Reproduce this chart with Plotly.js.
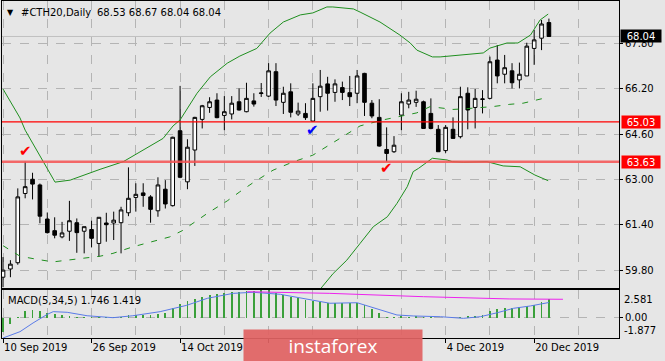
<!DOCTYPE html>
<html><head><meta charset="utf-8">
<script src="https://cdn.plot.ly/plotly-3.0.1.min.js"></script>
<style>html,body{margin:0;padding:0;background:#e6e6e6;}#chart{width:665px;height:361px;}</style>
</head><body><div id="chart"></div>
<script>
// ---- data ----
const dates = ["2019-09-10","2019-09-11","2019-09-12","2019-09-13","2019-09-16","2019-09-17","2019-09-18","2019-09-19","2019-09-20","2019-09-23","2019-09-24","2019-09-25","2019-09-26","2019-09-27","2019-09-30","2019-10-01","2019-10-02","2019-10-03","2019-10-04","2019-10-07","2019-10-08","2019-10-09","2019-10-10","2019-10-11","2019-10-14","2019-10-15","2019-10-16","2019-10-17","2019-10-18","2019-10-21","2019-10-22","2019-10-23","2019-10-24","2019-10-25","2019-10-28","2019-10-29","2019-10-30","2019-10-31","2019-11-01","2019-11-04","2019-11-05","2019-11-06","2019-11-07","2019-11-08","2019-11-11","2019-11-12","2019-11-13","2019-11-14","2019-11-15","2019-11-18","2019-11-19","2019-11-20","2019-11-21","2019-11-22","2019-11-25","2019-11-26","2019-11-27","2019-11-29","2019-12-02","2019-12-03","2019-12-04","2019-12-05","2019-12-06","2019-12-09","2019-12-10","2019-12-11","2019-12-12","2019-12-13","2019-12-16","2019-12-17","2019-12-18","2019-12-19","2019-12-20","2019-12-23","2019-12-24"];
const open  = [59.56,59.85,60.07,62.51,63.01,62.81,61.61,61.20,60.98,61.18,61.48,61.18,61.24,60.75,61.47,61.47,61.48,61.83,62.37,62.53,62.39,61.90,62.66,62.08,64.72,62.92,64.04,65.12,65.54,65.80,65.26,65.31,65.74,65.39,65.77,66.03,65.94,66.80,65.72,66.09,65.31,65.33,65.06,65.92,66.37,66.07,66.24,66.06,66.04,66.74,65.69,65.19,64.06,63.98,65.27,65.66,65.72,65.74,65.33,64.77,64.02,64.77,64.51,66.04,65.54,65.82,65.86,67.21,66.71,66.83,66.51,66.65,67.62,67.98,68.53];
const high  = [60.27,60.16,62.69,63.63,63.24,62.86,61.84,61.67,61.51,62.25,61.63,61.34,61.55,61.67,61.83,61.87,62.04,63.43,62.87,62.87,62.45,63.08,62.98,64.51,66.30,64.42,65.21,65.63,65.90,66.04,65.94,65.94,66.21,66.41,66.04,66.40,67.10,67.10,66.27,66.39,65.71,65.69,66.39,66.86,66.62,66.53,66.45,66.65,66.86,66.76,65.80,65.83,64.84,64.53,66.04,66.09,66.13,65.78,65.86,64.92,64.92,65.19,66.27,66.25,66.19,66.15,67.33,67.74,67.39,67.10,67.12,67.82,68.27,68.62,68.67];
const low   = [59.21,59.56,60.00,62.34,62.30,61.46,61.10,60.93,60.93,60.84,60.42,60.40,60.61,60.28,60.81,60.87,60.40,61.71,61.87,62.04,61.48,61.69,61.98,62.05,63.05,62.66,63.48,64.80,65.35,65.16,64.74,65.12,65.43,65.37,65.57,65.91,65.91,65.59,65.31,65.19,65.24,65.10,65.04,65.39,65.43,65.74,65.80,65.59,65.69,65.24,65.16,64.16,63.63,63.94,64.74,65.51,65.56,64.80,64.77,63.98,63.94,64.45,64.45,64.77,64.80,65.33,65.83,66.39,66.39,66.21,66.21,66.65,67.04,67.56,68.04];
const close = [59.81,60.02,62.39,62.75,62.84,61.71,61.13,61.04,61.12,61.55,61.13,61.34,60.93,61.67,61.41,61.57,61.93,62.34,62.48,62.44,61.95,62.81,62.14,64.49,63.08,64.14,65.19,65.60,65.74,65.18,65.39,65.69,65.45,65.86,65.66,66.05,66.83,65.80,66.04,65.37,65.41,65.18,65.86,66.29,66.04,66.37,66.07,65.92,66.65,65.72,65.24,64.18,63.92,64.21,65.74,65.80,65.83,64.80,64.80,63.98,64.84,64.45,65.92,65.45,65.86,65.84,67.15,66.65,66.94,66.41,66.71,67.70,67.92,68.48,68.04];

// Bollinger bands (bar index, price)
const bbUpperIdx = [0,2.3,3.0,7.05,9.1,11.8,13.15,16.3,18.6,21.7,23.05,24.0,26.3,28.1,30.4,32.1,34.4,35.25,36.2,38.0,40.3,42.0,43.9,44.7,47.5,48.4,51.1,53.8,55.2,56.1,58.2,59.25,65.1,66.0,68.3,69.8,71.5,72.8,73.9];
const bbUpper    = [66.19,65.17,64.74,62.91,62.98,63.24,63.36,63.63,63.98,64.45,64.89,65.10,66.04,66.62,67.10,67.35,67.62,67.86,68.16,68.55,68.80,68.87,69.08,69.08,69.01,68.90,68.55,68.09,67.81,67.56,67.32,67.32,67.46,67.63,67.81,67.81,68.09,68.62,68.83];
const bbMidIdx = [0,2.3,4.6,6.8,8.7,11.4,13.15,14.9,17.6,22.6,24.3,27.7,30.4,32.1,33.9,36.6,39.3,42.0,45.3,48.4,51.5,54.2,56.1,57.9,61.0,62.9,66.4,68.7,70.5,73.9];
const bbMid    = [60.67,60.30,60.19,60.10,60.16,60.24,60.30,60.40,60.63,60.98,61.20,61.81,62.25,62.57,62.89,63.33,63.62,63.86,64.39,64.89,65.10,65.24,65.35,65.57,65.47,65.50,65.57,65.65,65.69,65.90];
const bbLowerIdx = [42.5,43.25,44.75,46.6,48.4,50.2,52.1,53.4,54.8,55.6,56.3,58.2,60.2,60.9,62.4,65.6,67.8,70.1,72.1,73.9];
const bbLower    = [58.95,59.22,59.69,60.16,60.75,61.34,61.69,62.16,62.75,63.28,63.39,63.75,63.69,63.63,63.61,63.63,63.48,63.45,63.16,62.96];

// horizontal levels
const levels = [65.03, 63.63];
const levelLabels = ["65.03", "63.63"];

// check marks: bar index, price, colour
const checkIdx   = [3, 42, 52];
const checkPrice = [63.99, 64.76, 63.39];
const checkColor = ["#ff0000", "#0000ff", "#ff0000"];

// MACD(5,34,5): histogram (main) and signal
const macdHist = [-1.30,-0.60,0.10,0.65,0.70,0.65,0.45,0.35,0.25,0.20,0.12,0.08,0.05,0.05,0.03,0.08,0.12,0.25,0.30,0.30,0.25,0.35,0.40,0.90,1.30,1.55,1.75,1.95,2.10,2.20,2.30,2.37,2.40,2.45,2.50,2.55,2.581,2.30,2.15,1.95,1.80,1.65,1.55,1.50,1.40,1.38,1.36,1.33,1.40,1.15,0.85,0.45,0.08,0.04,0.15,0.10,0.20,0.12,0.10,0.02,-0.05,0.00,0.12,0.17,0.20,0.26,0.63,0.85,0.94,0.90,1.03,1.12,1.20,1.50,1.746];
const macdSigIdx = [0,2.3,4.07,6.0,6.8,8.7,11.4,14.9,17.6,21.3,24.9,27.7,31.2,33.9,37.6,40.3,43,44.3,48,51.1,53.4,55.6,59.3,62.4,64.7,67,69.2,71.5,74];
const macdSig    = [-1.877,-1.29,-0.48,0.32,0.57,0.51,0.19,0.01,0.19,0.57,1.16,1.81,2.27,2.37,2.18,1.87,1.49,1.35,1.40,0.72,0.26,0.17,0.10,-0.05,0.10,0.47,0.88,1.10,1.419];
const magentaIdx = [33.1,44.3,57,63.3,68.7,75.9];
const magentaVal = [2.42,2.27,1.96,1.81,1.75,1.72];
const macdMax = 2.581, macdMin = -1.877;
const macdLabel = "MACD(5,34,5) 1.746 1.419";

const priceTicks = [59.80,61.40,63.00,64.60,66.20,67.80];
const tickIdx = [0,12,24,36,48,60,72];
const tickLabels = ["10 Sep 2019","26 Sep 2019","14 Oct 2019","30 Oct 2019","15 Nov 2019","4 Dec 2019","20 Dec 2019"];
const tickHidden = [false,false,false,true,true,false,false]; // covered by the logo in the picture

// ---- drawing ----
const idx = dates.map((d,i)=>i);
const last = close.length-1;
const F = "DejaVu Sans, sans-serif";
const green = "#1f8f1f";

const traces = [
  {type:"candlestick", x:idx, open:open, high:high, low:low, close:close, xaxis:"x", yaxis:"y",
   increasing:{line:{color:"#000000",width:1}, fillcolor:"#ffffff"},
   decreasing:{line:{color:"#000000",width:1}, fillcolor:"#000000"},
   whiskerwidth:0, hoverinfo:"skip", showlegend:false},
  {type:"scatter", mode:"lines", x:bbUpperIdx, y:bbUpper, line:{color:green,width:1}, xaxis:"x", yaxis:"y", hoverinfo:"skip", showlegend:false},
  {type:"scatter", mode:"lines", x:bbMidIdx, y:bbMid, line:{color:green,width:1,dash:"6px,8px"}, xaxis:"x", yaxis:"y", hoverinfo:"skip", showlegend:false},
  {type:"scatter", mode:"lines", x:bbLowerIdx, y:bbLower, line:{color:green,width:1}, xaxis:"x", yaxis:"y", hoverinfo:"skip", showlegend:false},
  {type:"bar", x:idx, y:macdHist, width:0.25, marker:{color:"#3aa03a",line:{width:0}}, xaxis:"x2", yaxis:"y2", hoverinfo:"skip", showlegend:false},
  {type:"scatter", mode:"lines", x:macdSigIdx, y:macdSig, line:{color:"#5a7be8",width:1}, xaxis:"x2", yaxis:"y2", hoverinfo:"skip", showlegend:false},
  {type:"scatter", mode:"lines", x:magentaIdx, y:magentaVal, line:{color:"#ee22ee",width:1}, xaxis:"x2", yaxis:"y2", hoverinfo:"skip", showlegend:false}
];

const L = 2, R = 619, T = 1, B = 338;
const W = R-L, H = B-T;
const px = x => (x-L)/W;
const py = y => (B-y)/H;

const xr = [-0.14, 83.5];
const gridc = "#b4b4b4";

const shapes = [
  {type:"line", xref:"paper", x0:0, x1:1, yref:"y", y0:close[last], y1:close[last], line:{color:"#c0c0c0",width:1}, layer:"below"},
  {type:"line", xref:"paper", x0:0, x1:1, yref:"y", y0:levels[0], y1:levels[0], line:{color:"#ff0000",width:1.2}},
  {type:"line", xref:"paper", x0:0, x1:1, yref:"y", y0:levels[1], y1:levels[1], line:{color:"rgba(245,80,80,0.85)",width:2.5}}
];

const annotations = [
  {xref:"paper", yref:"paper", x:px(5), y:py(12), xanchor:"left", yanchor:"middle", text:"▼", showarrow:false, font:{family:F,size:8,color:"#000"}},
  {xref:"paper", yref:"paper", x:px(19), y:py(12), xanchor:"left", yanchor:"middle", text:"#CTH20,Daily", showarrow:false, font:{family:F,size:10,color:"#000"}},
  {xref:"paper", yref:"paper", x:px(95), y:py(12), xanchor:"left", yanchor:"middle", text:[open[last],high[last],low[last],close[last]].map(v=>v.toFixed(2)).join(" "), showarrow:false, font:{family:F,size:10,color:"#000"}},
  {xref:"paper", yref:"paper", x:px(6), y:py(300), xanchor:"left", yanchor:"middle", text:macdLabel, showarrow:false, font:{family:F,size:10,color:"#000"}},
  {xref:"paper", yref:"y2", x:px(622), y:macdMax, xanchor:"left", yanchor:"top", yshift:-2, text:macdMax.toFixed(3), showarrow:false, font:{family:F,size:10,color:"#000"}},
  {xref:"paper", yref:"y2", x:px(622), y:macdMin, xanchor:"left", yanchor:"bottom", text:macdMin.toFixed(3), showarrow:false, font:{family:F,size:10,color:"#000"}},
  {xref:"paper", yref:"y", x:px(620), y:close[last], xanchor:"left", yanchor:"middle", text:close[last].toFixed(2), showarrow:false, bgcolor:"#000000", borderpad:0, width:40, height:12, font:{family:F,size:10,color:"#fff"}},
  {xref:"paper", yref:"y", x:px(621), y:levels[0], xanchor:"left", yanchor:"middle", text:levelLabels[0], showarrow:false, bgcolor:"#ff0000", borderpad:0, width:38, height:12, font:{family:F,size:10,color:"#fff"}},
  {xref:"paper", yref:"y", x:px(621), y:levels[1], xanchor:"left", yanchor:"middle", text:levelLabels[1], showarrow:false, bgcolor:"#ff0000", borderpad:0, width:38, height:12, font:{family:F,size:10,color:"#fff"}},
  {xref:"paper", yref:"paper", x:px(333), y:py(346), xanchor:"center", yanchor:"middle", text:"instaforex", showarrow:false,
   bgcolor:"rgba(224,98,98,0.93)", borderpad:0, width:178, height:32, align:"center",
   font:{family:"Open Sans, sans-serif",size:19,color:"#ffffff"}}
];
checkIdx.forEach((c,i)=>annotations.push({xref:"x", yref:"y", x:c, y:checkPrice[i], text:"✔", showarrow:false, font:{family:F,size:15,color:checkColor[i]}}));

const layout = {
  width:665, height:361,
  margin:{l:L, r:665-R, t:T, b:361-B},
  paper_bgcolor:"#e6e6e6", plot_bgcolor:"#e6e6e6",
  showlegend:false,
  font:{family:F,size:10,color:"#000"},
  xaxis:{domain:[0,1], anchor:"y", range:xr, rangeslider:{visible:false}, showticklabels:false,
         tickmode:"array", tickvals:tickIdx, ticks:"", showgrid:true, gridcolor:gridc, griddash:"dash",
         minor:{tickmode:"linear", tick0:0, dtick:6, showgrid:true, gridcolor:gridc, griddash:"dash", ticks:""},
         showline:true, mirror:true, linecolor:"#000", linewidth:1, zeroline:false, fixedrange:true},
  yaxis:{domain:[py(288),1], anchor:"x", side:"right", range:[59.18,69.29], tickmode:"array", tickvals:priceTicks,
         ticktext:priceTicks.map(v=>v.toFixed(2)), ticks:"outside", ticklen:3, tickcolor:"#000",
         showgrid:true, gridcolor:gridc, griddash:"dash", showline:true, mirror:true, linecolor:"#000", linewidth:1, zeroline:false,
         tickfont:{family:F,size:10,color:"#000"}, fixedrange:true},
  xaxis2:{domain:[0,1], anchor:"y2", range:xr, tickmode:"array", tickvals:tickIdx, ticktext:tickLabels.map((t,i)=>tickHidden[i]?"":t),
          ticks:"outside", ticklen:4, tickcolor:"#000", ticklabelposition:"outside right",
          showgrid:true, gridcolor:gridc, griddash:"dash",
          minor:{tickmode:"linear", tick0:0, dtick:6, showgrid:true, gridcolor:gridc, griddash:"dash", ticks:""},
          showline:true, mirror:true, linecolor:"#000", linewidth:1, zeroline:false,
          tickfont:{family:F,size:10,color:"#000"}, fixedrange:true},
  yaxis2:{domain:[0,py(290)], anchor:"x2", side:"right", range:[macdMin,macdMax], tickmode:"array", tickvals:[0], ticktext:["0.00"],
          ticks:"outside", ticklen:3, tickcolor:"#000", showgrid:true, gridcolor:gridc, griddash:"dash",
          showline:true, mirror:true, linecolor:"#000", linewidth:1, zeroline:false,
          tickfont:{family:F,size:10,color:"#000"}, fixedrange:true},
  shapes:shapes, annotations:annotations, bargap:0
};

Plotly.newPlot("chart", traces, layout, {staticPlot:true, displayModeBar:false});
</script></body></html>
